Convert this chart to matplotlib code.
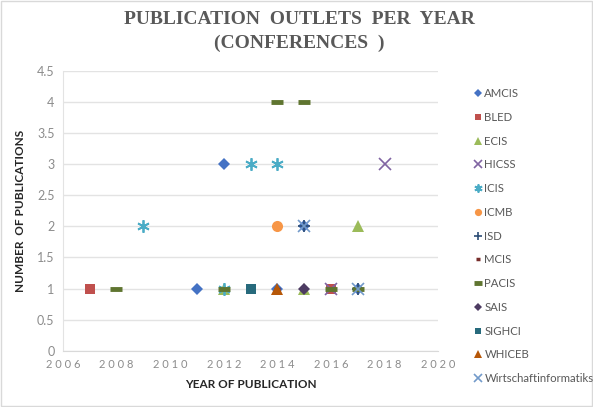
import matplotlib
matplotlib.use("Agg")
import matplotlib.pyplot as plt
from matplotlib.patches import Rectangle

# ---- data ----
series_names = ["AMCIS", "BLED", "ECIS", "HICSS", "ICIS", "ICMB", "ISD", "MCIS",
                "PACIS", "SAIS", "SIGHCI", "WHICEB", "Wirtschaftinformatiks"]
amcis_x = [2011, 2012, 2014, 2015, 2017]; amcis_y = [1, 3, 1, 2, 1]
bled_x = [2007, 2016];                    bled_y = [1, 1]
ecis_x = [2012, 2015, 2017];              ecis_y = [1, 1, 2]
hicss_x = [2016, 2018];                   hicss_y = [1, 3]
icis_x = [2009, 2012, 2013, 2014];        icis_y = [2, 1, 3, 3]
icmb_x = [2014];                          icmb_y = [2]
isd_x = [2015, 2017];                     isd_y = [2, 1]
mcis_x = [2014, 2016];                    mcis_y = [1, 1]
pacis_x = [2008, 2012, 2014, 2015, 2016, 2017]; pacis_y = [1, 1, 4, 4, 1, 1]
sais_x = [2015];                          sais_y = [1]
sighci_x = [2013];                        sighci_y = [1]
whiceb_x = [2014];                        whiceb_y = [1]
wi_x = [2015, 2017];                      wi_y = [2, 1]
x_ticks = [2006, 2008, 2010, 2012, 2014, 2016, 2018, 2020]
y_ticks = [0, 0.5, 1, 1.5, 2, 2.5, 3, 3.5, 4, 4.5]

data = [(amcis_x, amcis_y), (bled_x, bled_y), (ecis_x, ecis_y), (hicss_x, hicss_y),
        (icis_x, icis_y), (icmb_x, icmb_y), (isd_x, isd_y), (mcis_x, mcis_y),
        (pacis_x, pacis_y), (sais_x, sais_y), (sighci_x, sighci_y),
        (whiceb_x, whiceb_y), (wi_x, wi_y)]

styles = [
    dict(marker="D", color="#4472C4", ms=6, mew=0),
    dict(marker="s", color="#C0504D", ms=7, mew=0),
    dict(marker="^", color="#9BBB59", ms=8, mew=0),
    dict(marker="x", color="#8064A2", ms=8, mew=1.2),
    dict(marker=(6, 2, 0), color="#4BACC6", ms=9, mew=1.3),
    dict(marker="o", color="#F79646", ms=8, mew=0),
    dict(marker="+", color="#2C4D75", ms=8, mew=1.2),
    dict(marker="_", color="#772C2A", ms=5, mew=2.5),
    dict(marker="_", color="#5F7530", ms=8, mew=3.5),
    dict(marker="D", color="#4D3B62", ms=6, mew=0),
    dict(marker="s", color="#276A7C", ms=7, mew=0),
    dict(marker="^", color="#B65708", ms=8, mew=0),
    dict(marker="x", color="#729ACA", ms=8, mew=1.2),
]

fig = plt.figure(figsize=(5.93, 4.07), dpi=100)
fig.patches.append(Rectangle((0.002, 0.002), 0.996, 0.996, transform=fig.transFigure,
                             fill=False, edgecolor="#D9D9D9", lw=1))
ax = fig.add_axes([0.106, 0.138, 0.633, 0.688])

for (xs, ys), name, st in zip(data, series_names, styles):
    ax.plot(xs, ys, linestyle="none", marker=st["marker"], color=st["color"],
            markersize=st["ms"], markeredgewidth=st["mew"], label=name, zorder=3)

ax.set_xlim(2006, 2020)
ax.set_ylim(0, 4.5)
ax.set_xticks(x_ticks)
ax.set_xticklabels([" ".join(str(t)) for t in x_ticks], fontsize=8)
ax.set_yticks(y_ticks)
ax.set_yticklabels([f"{t:g}" for t in y_ticks], fontsize=9)
ax.tick_params(axis="both", length=0, labelcolor="#8C8C8C", pad=6,
               labelfontfamily="Lato")
ax.grid(axis="y", color="#E3E3E3", lw=1)
ax.set_axisbelow(True)
for s in ["top", "right"]:
    ax.spines[s].set_visible(False)
ax.spines["left"].set_color("#E3E3E3")
ax.spines["bottom"].set_color("#D9D9D9")

ax.set_xlabel("YEAR OF PUBLICATION", fontsize=8.5, fontweight="bold", color="#262626",
              family="Lato", labelpad=6)
ax.set_ylabel("NUMBER  OF PUBLICATIONS", fontsize=8.5, fontweight="bold", color="#262626",
              family="Lato", labelpad=8)

fig.text(0.505, 0.953, "PUBLICATION  OUTLETS  PER  YEAR",
         ha="center", va="center", fontsize=14, fontweight="bold", color="#595959",
         family="Liberation Serif")
fig.text(0.505, 0.893, "(CONFERENCES  )",
         ha="center", va="center", fontsize=14, fontweight="bold", color="#595959",
         family="Liberation Serif")

leg = fig.legend(loc="upper left", bbox_to_anchor=(0.788, 0.795), frameon=False,
                 prop=dict(family="Lato", size=8.2), labelcolor="#595959",
                 handletextpad=0.1, handlelength=1.0, labelspacing=1.12,
                 borderaxespad=0, markerscale=0.65)

fig.savefig("out.png", dpi=100)
